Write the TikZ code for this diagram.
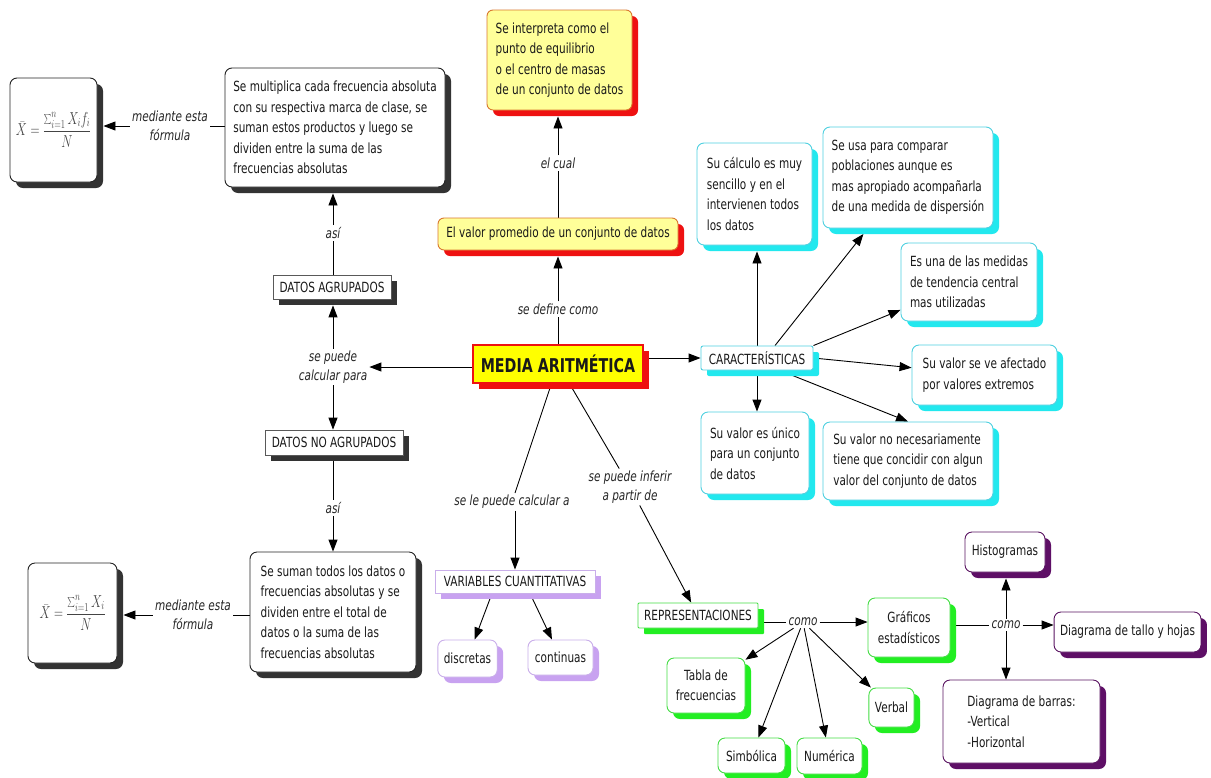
\documentclass[tikz,border=0pt]{standalone}
\usepackage{fontspec}
\usepackage{graphicx}
\setmainfont{DejaVu Sans}[FakeStretch=0.75]
\usetikzlibrary{shadows,arrows.meta}

\definecolor{blkline}{HTML}{222222}
\definecolor{blkshadow}{HTML}{333333}
\definecolor{lightyel}{HTML}{FFFF99}
\definecolor{ylline}{HTML}{D9782E}
\definecolor{redsh}{HTML}{EE1111}
\definecolor{mainyel}{HTML}{FFFF00}
\definecolor{cyline}{HTML}{4FD0E0}
\definecolor{cysh}{HTML}{22E8EE}
\definecolor{lavline}{HTML}{C9AEEA}
\definecolor{lavsh}{HTML}{C8A2F0}
\definecolor{grline}{HTML}{44DD44}
\definecolor{grsh}{HTML}{22EE22}
\definecolor{puline}{HTML}{5A1462}
\definecolor{push}{HTML}{5E0F66}
\definecolor{formgray}{HTML}{444444}

\pgfdeclarelayer{background}
\pgfsetlayers{background,main}

\tikzset{
  txt/.style={font=\fontsize{14}{20.5}\selectfont, align=left, inner xsep=6pt,
    inner ysep=3pt, line width=0.9pt, fill=white, text=black!90},
  shd/.style={drop shadow={shadow xshift=6pt, shadow yshift=-6pt, opacity=1, fill=#1}},
  blkbox/.style={txt, draw=blkline, rounded corners=7pt, shd=blkshadow},
  sqbox/.style={txt, draw=gray!70!black, line width=0.7pt, shd=blkshadow},
  ylbox/.style={txt, fill=lightyel, draw=ylline, rounded corners=6pt, shd=redsh},
  mainbox/.style={txt, font=\fontsize{19}{22}\selectfont\bfseries, fill=mainyel,
    draw=redsh, line width=2.5pt, shd=redsh},
  cybox/.style={txt, draw=cyline, rounded corners=7pt, shd=cysh},
  cysq/.style={txt, draw=cyline, rounded corners=2pt, shd=cysh},
  lavbox/.style={txt, draw=lavline, rounded corners=7pt, shd=lavsh},
  lavsq/.style={txt, draw=lavline, shd=lavsh},
  grbox/.style={txt, draw=grline, rounded corners=7pt, shd=grsh},
  grsq/.style={txt, draw=grline, rounded corners=1pt, shd=grsh},
  pubox/.style={txt, draw=puline, rounded corners=7pt, shd=push},
  formula/.style={blkbox, align=center, font=\fontsize{17}{20}\selectfont, text=formgray},
  lab/.style={font=\fontsize{14}{19}\selectfont\itshape, align=center, inner sep=2pt,
    text=black!85},
  ln/.style={line width=0.9pt, draw=black},
  arr/.style={ln, -{Triangle[length=12pt,width=9pt]}},
}

\begin{document}
\begin{tikzpicture}[x=1pt,y=-1pt]
\useasboundingbox (0,0) rectangle (1211,777);
\begin{pgfonlayer}{background}
  \fill[white] (0,0) rectangle (1211,777);
\end{pgfonlayer}

% ---- concepts ----
\node[formula, minimum width=87pt, minimum height=104pt] (f1) at (53.5,130)
  {\scalebox{0.72}[1]{$\displaystyle \bar{X}=\frac{\sum\nolimits_{i=1}^{n}X_if_i}{N}$}};
\node[blkbox, minimum width=220pt, minimum height=119pt] (gb) at (335,127.5)
  {Se multiplica cada frecuencia absoluta\\con su respectiva marca de clase, se\\suman estos productos y luego se\\dividen entre la suma de las\\frecuencias absolutas};
\node[lab] (lm1) at (170,126) {mediante esta\\fórmula};

\node[ylbox, minimum width=145pt, minimum height=100pt] (interp) at (559.5,60)
  {Se interpreta como el\\punto de equilibrio\\o el centro de masas\\de un conjunto de datos};
\node[ylbox, minimum width=240pt, minimum height=32pt] (valor) at (558,234)
  {El valor promedio de un conjunto de datos};
\node[lab] (lcual) at (558,163) {el cual};

\node[mainbox, minimum width=170pt, minimum height=38pt] (media) at (558,364) {MEDIA ARITMÉTICA};
\node[lab] (ldef) at (558,309) {se define como};

\node[sqbox, minimum width=118pt, minimum height=24pt] (dag) at (332,287) {DATOS AGRUPADOS};
\node[sqbox, minimum width=138pt, minimum height=25pt] (dnag) at (334,442.5) {DATOS NO AGRUPADOS};
\node[lab] (lcalc) at (333,367) {se puede\\calcular para};
\node[lab] (lasi1) at (333,233) {así};
\node[lab] (lasi2) at (333,508) {así};

\node[blkbox, minimum width=166pt, minimum height=120pt] (ngb) at (333,612)
  {Se suman todos los datos o\\frecuencias absolutas y se\\dividen entre el total de\\datos o la suma de las\\frecuencias absolutas};
\node[formula, minimum width=89pt, minimum height=100pt] (f2) at (72.5,613)
  {\scalebox{0.72}[1]{$\displaystyle \bar{X}=\frac{\sum\nolimits_{i=1}^{n}X_i}{N}$}};
\node[lab] (lm2) at (193,615) {mediante esta\\fórmula};

% characteristics
\node[cysq, minimum width=112pt, minimum height=24pt] (car) at (757,358) {CARACTERÍSTICAS};
\node[cybox, minimum width=115pt, minimum height=102pt] (c1) at (754.5,194)
  {Su cálculo es muy\\sencillo y en el\\intervienen todos\\los datos};
\node[cybox, minimum width=170pt, minimum height=101pt] (c2) at (908,177.5)
  {Se usa para comparar\\poblaciones aunque es\\mas apropiado acompañarla\\de una medida de dispersión};
\node[cybox, minimum width=136pt, minimum height=78pt] (c3) at (969,282)
  {Es una de las medidas\\de tendencia central\\mas utilizadas};
\node[cybox, minimum width=145pt, minimum height=60pt] (c4) at (984.5,375)
  {Su valor se ve afectado\\por valores extremos};
\node[cybox, minimum width=170pt, minimum height=78pt] (c5) at (908,461)
  {Su valor no necesariamente\\tiene que concidir con algun\\valor del conjunto de datos};
\node[cybox, minimum width=108pt, minimum height=82pt] (c6) at (755,453)
  {Su valor es único\\para un conjunto\\de datos};

% variables
\node[lab] (lcalca) at (512,502) {se le puede calcular a};
\node[lab] (linf) at (630,487) {se puede inferir\\a partir de};
\node[lavsq, minimum width=160pt, minimum height=23pt] (vc) at (515,581.5) {VARIABLES CUANTITATIVAS};
\node[lavbox, minimum width=59pt, minimum height=37pt] (disc) at (467.5,658.5) {discretas};
\node[lavbox, minimum width=65pt, minimum height=35pt] (cont) at (560.5,657.5) {continuas};

% representations
\node[grsq, minimum width=120pt, minimum height=25pt] (rep) at (698,615.5) {REPRESENTACIONES};
\node[lab] (como1) at (803,622) {como};
\node[grbox, align=center, minimum width=82pt, minimum height=59pt] (graf) at (909,627.5) {Gráficos\\estadísticos};
\node[grbox, align=center, minimum width=78pt, minimum height=55pt] (tabla) at (706,685.5) {Tabla de\\frecuencias};
\node[grbox, minimum width=67pt, minimum height=35pt] (simb) at (751.5,755.5) {Simbólica};
\node[grbox, minimum width=65pt, minimum height=36pt] (num) at (829.5,756) {Numérica};
\node[grbox, minimum width=43pt, minimum height=39pt] (verb) at (891.5,707.5) {Verbal};

% charts
\node[lab] (como2) at (1006,625) {como};
\node[pubox, minimum width=80pt, minimum height=40pt] (hist) at (1005,552) {Histogramas};
\node[pubox, minimum width=145pt, minimum height=40pt] (tallo) at (1127.5,632) {Diagrama de tallo y hojas};
\node[pubox, minimum width=157pt, minimum height=83pt] (barras) at (1021.5,721.5)
  {Diagrama de barras:\\-Vertical\\-Horizontal};

% ---- connectors ----
\begin{pgfonlayer}{background}
  % left branch
  \draw[ln] (gb.west |- lm1) -- (lm1);
  \draw[arr, shorten >=6pt] (lm1) -- (lm1 -| f1.east);
  \draw[ln] (lasi1 |- dag.north) -- (lasi1);
  \draw[arr, shorten >=6pt] (lasi1) -- (lasi1 |- gb.south);
  \draw[arr] (media.west |- lcalc) -- (lcalc);
  \draw[arr, shorten >=6pt] (lcalc) -- (lcalc |- dag.south);
  \draw[arr] (lcalc) -- (lcalc |- dnag.north);
  \draw[ln] (lasi2 |- dnag.south) -- (lasi2);
  \draw[arr] (lasi2) -- (lasi2 |- ngb.north);
  \draw[ln] (ngb.west |- lm2) -- (lm2);
  \draw[arr, shorten >=6pt] (lm2) -- (lm2 -| f2.east);
  % top branch
  \draw[ln] (ldef |- media.north) -- (ldef);
  \draw[arr, shorten >=6pt] (ldef) -- (ldef |- valor.south);
  \draw[ln] (lcual |- valor.north) -- (lcual);
  \draw[arr, shorten >=6pt] (lcual) -- (lcual |- interp.south);
  % characteristics
  \draw[arr] (media.east |- car) -- (car.west);
  \draw[arr, shorten >=6pt] (car) -- (car |- c1.south);
  \draw[arr, shorten >=7pt] ([xshift=18pt]car.north) -- (c2);
  \draw[arr] (car.north east) -- (c3);
  \draw[arr] (car.east) -- (c4);
  \draw[arr] ([xshift=23pt]car.south) -- (c5.north);
  \draw[arr] (car) -- (car |- c6.north);
  % lower branches
  \draw[ln] (media) -- (lcalca);
  \draw[arr] (lcalca.south -| vc.north) -- (vc.north);
  \draw[ln] (media) -- (linf);
  \draw[arr] (linf) -- (rep);
  \draw[arr] ([xshift=-23pt]vc.south) -- (disc);
  \draw[arr] ([xshift=15pt]vc.south) -- (cont);
  % representations
  \draw[ln] (rep.east |- como1) -- (como1);
  \draw[arr] (como1) -- (como1 -| graf.west);
  \draw[arr] (como1) -- (tabla);
  \draw[arr] (como1) -- (simb);
  \draw[arr] (como1) -- (num);
  \draw[arr] (como1) -- (verb);
  \draw[ln] (graf.east |- como2) -- (como2);
  \draw[arr, shorten >=6pt] (como2) -- (como2 |- hist.south);
  \draw[arr] (como2) -- (como2 -| tallo.west);
  \draw[arr] (como2) -- (como2 |- barras.north);
\end{pgfonlayer}
\end{tikzpicture}
\end{document}
